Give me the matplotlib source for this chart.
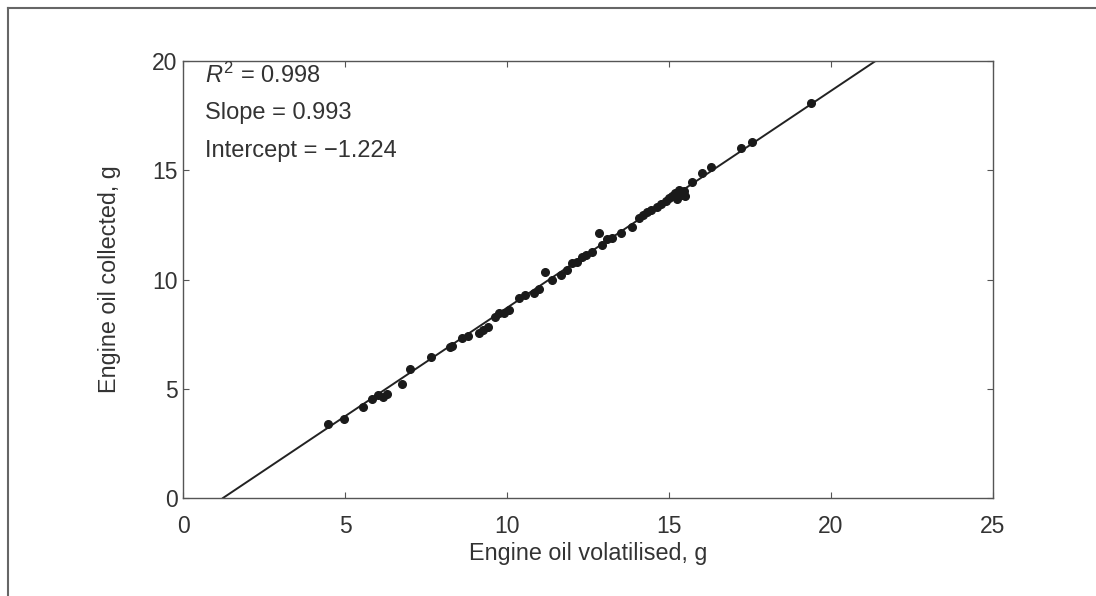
import matplotlib
matplotlib.use("Agg")
import matplotlib.pyplot as plt
from matplotlib.lines import Line2D
import numpy as np

plt.rcParams['font.family'] = ['Liberation Sans', 'DejaVu Sans']
plt.rcParams['mathtext.fontset'] = 'custom'
plt.rcParams['mathtext.rm'] = 'Liberation Sans'
plt.rcParams['mathtext.it'] = 'Liberation Sans:italic'

# measured points (volatilised, collected)
vol = [4.46, 4.96, 5.54, 5.82, 6.02, 6.16, 6.30, 6.77, 7.02, 7.64, 8.25, 8.31,
       8.62, 8.80, 9.14, 9.25, 9.40, 9.62, 9.76, 9.90, 10.05, 10.38, 10.55,
       10.84, 11.00, 11.18, 11.39, 11.67, 11.85, 12.01, 12.15, 12.31, 12.45,
       12.62, 12.84, 12.93, 13.10, 13.24, 13.51, 13.85, 14.07, 14.20, 14.31,
       14.45, 14.62, 14.75, 14.90, 14.99, 15.08, 15.20, 15.25, 15.30, 15.39,
       15.45, 15.50, 15.70, 16.01, 16.31, 17.21, 17.55, 19.39]
coll = [3.39, 3.62, 4.16, 4.53, 4.70, 4.62, 4.75, 5.22, 5.90, 6.45, 6.90, 6.96,
        7.32, 7.40, 7.55, 7.70, 7.85, 8.30, 8.47, 8.45, 8.60, 9.15, 9.30,
        9.38, 9.55, 10.34, 9.98, 10.21, 10.45, 10.75, 10.80, 11.03, 11.10,
        11.26, 12.13, 11.58, 11.85, 11.90, 12.13, 12.40, 12.81, 12.95, 13.09,
        13.20, 13.32, 13.45, 13.60, 13.73, 13.80, 13.96, 13.70, 14.10, 13.87,
        14.05, 13.80, 14.46, 14.87, 15.15, 16.02, 16.29, 18.08]

r2 = 0.998
slope = 0.993
intercept = -1.224

fig = plt.figure(figsize=(10.96, 5.96), dpi=100)
ax = fig.add_axes([0.167, 0.1644, 0.739, 0.7332])

# fitted line from y=0 to y=20
xl = np.array([(0 - intercept) / slope, (20 - intercept) / slope])
ax.plot(xl, slope * xl + intercept, color='#222222', lw=1.4, zorder=2)
ax.plot(vol, coll, 'o', color='#1a1a1a', ms=5.5, zorder=3)

ax.set_xlim(0, 25)
ax.set_ylim(0, 20)
ax.set_xticks([0, 5, 10, 15, 20, 25])
ax.set_yticks([0, 5, 10, 15, 20])
ax.tick_params(direction='in', length=4, width=0.8, colors='#555555',
               labelcolor='#333333', labelsize=16.5, top=True, right=True)
ax.tick_params(axis='x', pad=12)
ax.tick_params(axis='y', pad=4)
for s in ax.spines.values():
    s.set_color('#555555')
    s.set_linewidth(1.0)

ax.set_xlabel('Engine oil volatilised, g', fontsize=16.8, color='#333333', labelpad=3)
ax.set_ylabel('Engine oil collected, g', fontsize=16.8, color='#333333', labelpad=22)

tx = dict(transform=ax.transAxes, fontsize=17, color='#333333', va='center', ha='left')
ax.text(0.027, 0.968, r'$R^2$ = %.3f' % r2, **tx)
ax.text(0.027, 0.881, 'Slope = %.3f' % slope, **tx)
ax.text(0.027, 0.794, 'Intercept = \u2212%.3f' % abs(intercept), **tx)

# outer frame (left and top edges)
fig.add_artist(Line2D([8 / 1096, 8 / 1096], [0, 1 - 8 / 596], color='#666666', lw=1.5))
fig.add_artist(Line2D([8 / 1096, 1], [1 - 8 / 596, 1 - 8 / 596], color='#666666', lw=1.5))

fig.savefig('out.png', dpi=100)
